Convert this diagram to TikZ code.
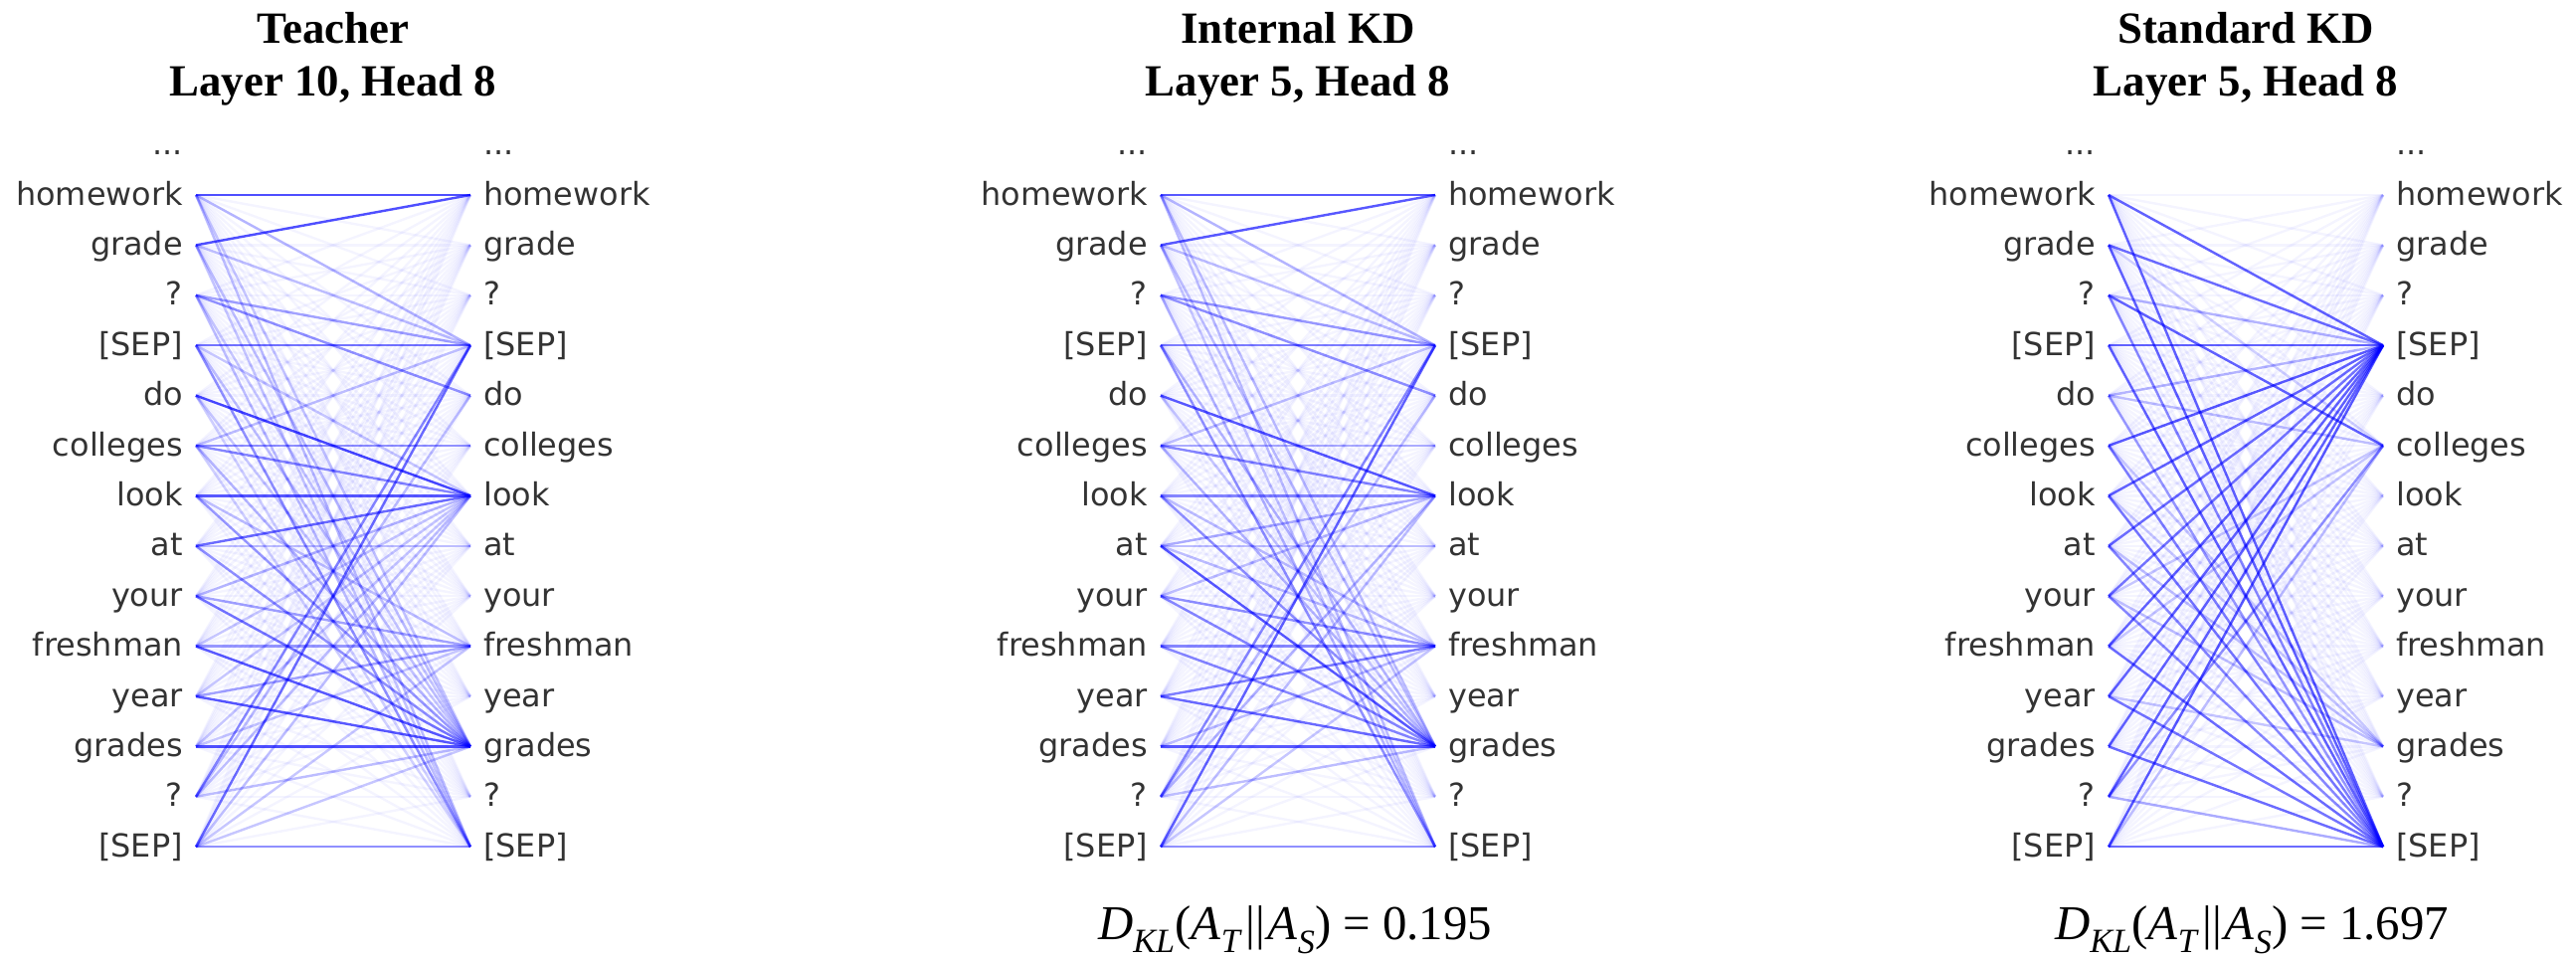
\documentclass[tikz,border=0pt]{standalone}
\usepackage{fontspec}
\setmainfont{Liberation Serif}
\newfontfamily\lblfont{DejaVu Sans}
\tikzset{
  tok/.style={font=\lblfont\fontsize{32}{38}\selectfont, text=black!80, inner sep=0pt},
  ttl/.style={font=\bfseries\fontsize{45}{53}\selectfont, inner sep=0pt},
  kl/.style={font=\fontsize{49}{58}\selectfont, inner sep=0pt},
  att/.style={draw=blue, line width=2.4bp},
}
\newcommand\attpanel[5]{%
  \pgfmathsetmacro\xr{#2+276}
  \pgfmathsetmacro\xc{#2+138}
  \foreach \t [count=\i from 0] in {homework,grade,?,{[SEP]},do,colleges,look,at,your,freshman,year,grades,?,{[SEP]}} {
    \coordinate (#1L\i) at (#2, 196+50.4*\i);
    \coordinate (#1R\i) at (\xr, 196+50.4*\i);
    \node[tok, anchor=base east] (#1Lt\i) at (#2-13, 206+50.4*\i) {\t};
    \node[tok, anchor=base west] (#1Rt\i) at (\xr+13, 206+50.4*\i) {\t};
  }
  \node[tok, anchor=base east] (#1Ldots) at (#2-13, 155.6) {...};
  \node[tok, anchor=base west] (#1Rdots) at (\xr+13, 155.6) {...};
  \foreach \i in {0,...,13} {
    \foreach \j in {0,...,13} {
      \draw[att, draw opacity=0.045] (#1L\i) -- (#1R\j);
    }
  }
  \foreach \i/\j/\o in {#5} {
    \pgfmathsetmacro\oo{\o*0.75}
    \draw[att, draw opacity=\oo] (#1L\i) -- (#1R\j);
  }
  \node[ttl, anchor=base] (#1title) at (\xc, 43) {#3};
  \node[ttl, anchor=base] (#1layer) at (\xc, 96) {#4};
}
\newcommand\klform[1]{\textit{D}\textsubscript{\textit{KL}}(\textit{A}\textsubscript{\textit{T}}\kern3pt||\kern3pt\textit{A}\textsubscript{\textit{S}})\kern12pt=\kern12pt#1}
\begin{document}
\begin{tikzpicture}[x=1bp,y=-1bp]
\useasboundingbox (0,0) rectangle (2590,964);
\attpanel{T}{197}{Teacher}{Layer 10, Head 8}{0/0/0.9, 1/0/0.9, 4/6/0.95, 6/6/0.85, 11/11/0.9, 10/11/0.85, 9/11/0.85, 3/3/0.7, 13/3/0.75, 7/6/0.75, 5/6/0.6, 8/11/0.7, 2/4/0.55, 5/5/0.55, 2/3/0.45, 13/13/0.55, 7/11/0.55, 9/9/0.5, 12/3/0.6, 3/13/0.55, 6/11/0.5, 0/3/0.35, 1/3/0.3, 0/13/0.3, 1/11/0.3, 8/9/0.45, 10/9/0.45, 8/6/0.35, 5/11/0.35, 4/11/0.25, 12/6/0.3, 13/6/0.3, 0/11/0.25, 2/13/0.3, 12/4/0.3, 3/11/0.3, 1/13/0.25, 7/7/0.3, 5/3/0.3, 6/9/0.3, 12/11/0.3, 13/9/0.25, 13/11/0.25, 11/9/0.25, 11/6/0.25, 9/6/0.25, 10/6/0.25, 3/6/0.25, 2/11/0.25, 4/13/0.2, 5/13/0.2}
\attpanel{I}{1167}{Internal KD}{Layer 5, Head 8}{0/0/0.85, 1/0/0.85, 4/6/0.85, 3/3/0.65, 2/4/0.55, 2/3/0.5, 0/3/0.35, 1/3/0.3, 5/6/0.6, 5/5/0.4, 6/6/0.6, 6/11/0.55, 7/11/0.85, 8/11/0.6, 8/9/0.55, 9/9/0.6, 9/11/0.6, 10/9/0.65, 10/11/0.75, 11/11/0.85, 12/3/0.6, 13/3/0.8, 13/13/0.55, 3/13/0.55, 0/13/0.3, 1/11/0.3, 7/6/0.4, 12/6/0.35, 13/6/0.3, 12/4/0.3, 2/13/0.35, 3/11/0.35, 5/11/0.35, 7/9/0.3, 8/6/0.3, 0/11/0.3, 1/13/0.25, 11/9/0.3, 12/11/0.3, 6/9/0.3, 7/7/0.3, 5/3/0.3, 4/11/0.25, 13/9/0.25}
\attpanel{S}{2120}{Standard KD}{Layer 5, Head 8}{0/3/0.8, 1/3/0.75, 2/3/0.35, 3/3/0.8, 4/3/0.35, 5/3/0.85, 6/3/0.8, 7/3/0.75, 8/3/0.7, 9/3/0.8, 10/3/0.8, 11/3/0.8, 12/3/0.8, 13/3/0.85, 0/13/0.8, 1/13/0.8, 2/13/0.6, 3/13/0.8, 4/13/0.5, 5/13/0.65, 6/13/0.7, 7/13/0.6, 8/13/0.6, 9/13/0.75, 10/13/0.7, 11/13/0.75, 12/13/0.4, 13/13/0.75, 2/5/0.8, 12/5/0.55, 13/5/0.3, 7/11/0.3, 8/11/0.3, 6/11/0.25, 4/5/0.3, 5/11/0.25, 9/5/0.25, 8/5/0.25, 10/11/0.25, 1/5/0.2}
\node[kl, anchor=base] (Ikl) at (1302, 944) {\klform{0.195}};
\node[kl, anchor=base] (Skl) at (2264, 944) {\klform{1.697}};
\end{tikzpicture}
\end{document}
